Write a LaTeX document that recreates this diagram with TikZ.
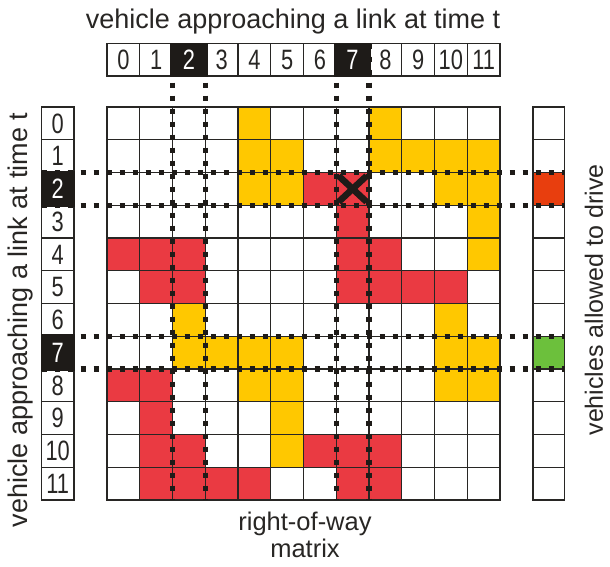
\documentclass[tikz,border=0pt]{standalone}
\usepackage{fontspec}
\setmainfont{Liberation Sans}
\newfontfamily\digitfont[FakeStretch=0.78]{Liberation Sans}
\definecolor{cyel}{RGB}{255,200,0}
\definecolor{cred}{RGB}{234,58,66}
\definecolor{cora}{RGB}{232,62,14}
\definecolor{cgrn}{RGB}{108,192,60}
\definecolor{cline}{RGB}{40,38,36}
\definecolor{cblk}{RGB}{30,27,24}
\begin{document}
\begin{tikzpicture}[x=1pt,y=-1pt,
  cell/.style={draw=cline,line width=1.4pt,fill=white,minimum width=32.75pt,minimum height=32.75pt,inner sep=0pt,outer sep=0pt,anchor=north west},
  dig/.style={cell,text=cline,font=\digitfont\fontsize{28}{28}\selectfont},
  blk/.style={dig,fill=cblk,draw=cblk,text=white},
  lbl/.style={font=\fontsize{27}{29}\selectfont,text=cline,inner sep=0pt},
  dotline/.style={draw=cblk,line width=5.5pt,dash pattern=on 5.5pt off 7.5pt},
  xline/.style={draw=cblk,line width=6.5pt}]
\useasboundingbox (0,0) rectangle (610,566);
% header row
\foreach \j in {0,...,11}
  \node[dig,minimum height=32.5pt] (h-\j) at ({107+\j*32.75},43.5) {\j};
\node[blk,minimum height=32.5pt,minimum width=36pt] (hb-2) at ({107+2*32.75-1.6},43.5) {2};
\node[blk,minimum height=32.5pt,minimum width=35pt] (hb-7) at ({107+7*32.75-1.2},43.5) {7};
% left column
\foreach \i in {0,...,11}
  \node[dig,minimum width=32.5pt] (l-\i) at (41.5,{107+\i*32.75}) {\i};
\node[blk,minimum width=32.5pt,minimum height=35pt] (lb-2) at (41.5,{107+2*32.75-1.1}) {2};
\node[blk,minimum width=32.5pt,minimum height=35pt] (lb-7) at (41.5,{107+7*32.75-1.1}) {7};
% main matrix
\foreach \i in {0,...,11}
  \foreach \j in {0,...,11}
    \node[cell] (m-\i-\j) at ({107+\j*32.75},{107+\i*32.75}) {};
\foreach \i/\j in {0/4,0/8,1/4,1/5,1/8,1/9,1/10,1/11,2/4,2/5,2/10,2/11,3/11,4/11,6/2,6/10,7/2,7/3,7/4,7/5,7/10,7/11,8/4,8/5,8/10,8/11,9/5,10/5}
  \node[cell,fill=cyel] (m-\i-\j) at ({107+\j*32.75},{107+\i*32.75}) {};
\foreach \i/\j in {2/6,2/7,3/7,4/0,4/1,4/2,4/7,4/8,5/1,5/2,5/7,5/8,5/9,5/10,8/0,8/1,9/1,10/1,10/2,10/6,10/7,10/8,11/1,11/2,11/3,11/4,11/7,11/8}
  \node[cell,fill=cred] (m-\i-\j) at ({107+\j*32.75},{107+\i*32.75}) {};
% right column
\foreach \i in {0,...,11}
  \node[cell,minimum width=31.5pt] (r-\i) at (533,{107+\i*32.75}) {};
\node[cell,minimum width=31.5pt,fill=cora] (r-2) at (533,{107+2*32.75}) {};
\node[cell,minimum width=31.5pt,fill=cgrn] (r-7) at (533,{107+7*32.75}) {};
% dotted guide lines
\draw[dotline] (h-2.north west) -- (m-11-2.south west);
\draw[dotline] (h-2.north east) -- (m-11-2.south east);
\draw[dotline] (h-7.north west) -- (m-11-7.south west);
\draw[dotline] (h-7.north east) -- (m-11-7.south east);
\draw[dotline] (l-2.north west) -- (r-2.north east);
\draw[dotline] (l-2.south west) -- (r-2.south east);
\draw[dotline] (l-7.north west) -- (r-7.north east);
\draw[dotline] (l-7.south west) -- (r-7.south east);
% conflict mark
\draw[xline] ([shift={(-14,-13)}]m-2-7.center) -- ([shift={(14,13)}]m-2-7.center);
\draw[xline] ([shift={(-14,13)}]m-2-7.center) -- ([shift={(14,-13)}]m-2-7.center);
% labels
\node[lbl] (title) at (293,22) {vehicle approaching a link at time t};
\node[lbl,rotate=90] (leftlbl) at (21,320) {vehicle approaching a link at time t};
\node[lbl,rotate=90,font=\fontsize{25}{27}\selectfont] (rightlbl) at (594,300) {vehicles allowed to drive};
\node[lbl,align=center,font=\fontsize{25.5}{26.5}\selectfont] (bottomlbl) at (305,535) {right-of-way\\matrix};
\end{tikzpicture}
\end{document}
